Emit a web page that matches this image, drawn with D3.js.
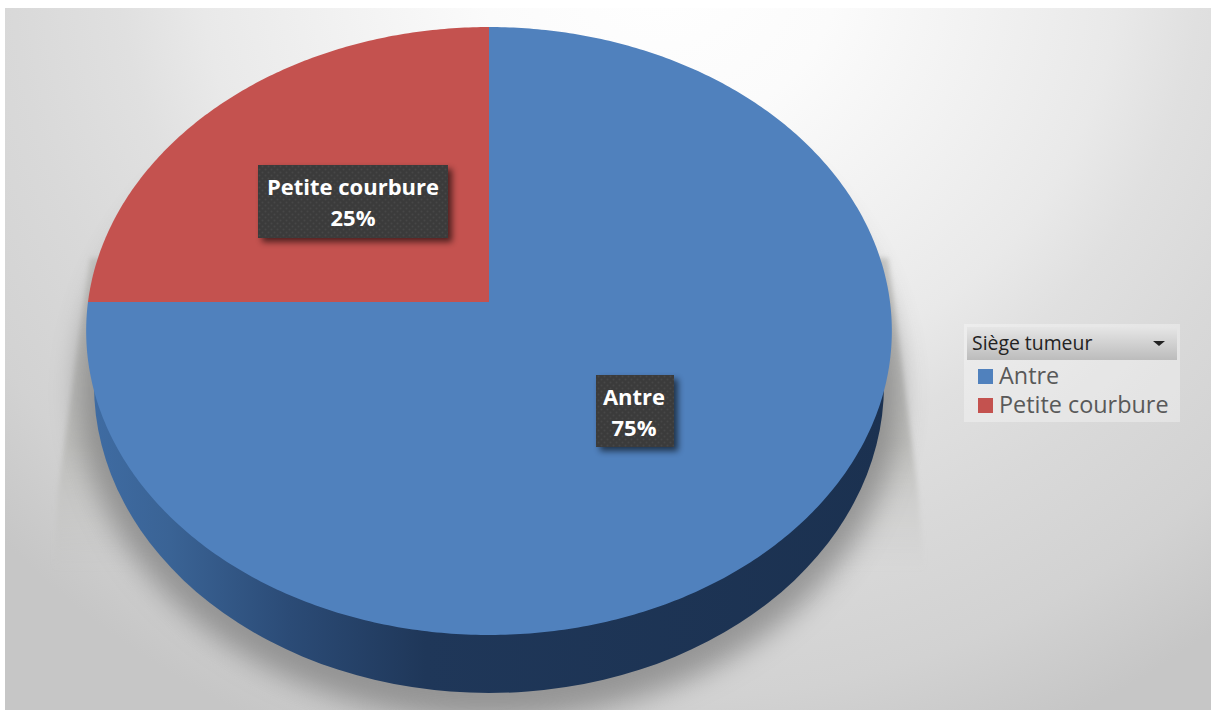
<!DOCTYPE html>
<html>
<head>
<meta charset="utf-8">
<script src="https://cdn.jsdelivr.net/npm/d3@7"></script>
<style>
html,body{margin:0;padding:0;background:#fff;}
svg{display:block;}
text{font-family:"Open Sans",sans-serif;}
</style>
</head>
<body>
<div id="chart"></div>
<script>
const categories = ["Antre", "Petite courbure"];
const shares = [75, 25];
const sliceColors = ["#5081bd", "#c4524f"];
const legendTitle = "Siège tumeur";

const W = 1211, H = 710;
const svg = d3.select("#chart").append("svg").attr("width", W).attr("height", H);
const defs = svg.append("defs");

// Backdrop: soft light falling from the top centre
const rad = defs.append("radialGradient").attr("id", "bg")
  .attr("gradientUnits", "userSpaceOnUse")
  .attr("cx", 0).attr("cy", 0).attr("r", 1)
  .attr("gradientTransform", "translate(660 -40) scale(900 850)");
[[0, "#ffffff"], [0.2, "#fbfbfb"], [0.51, "#e9e9e9"], [0.6, "#e0e0e0"], [0.72, "#d9d9d9"], [0.87, "#d2d2d2"], [1, "#c6c6c6"]]
  .forEach(([o, c]) => rad.append("stop").attr("offset", o).attr("stop-color", c));
svg.append("rect").attr("x", 5).attr("y", 8).attr("width", W - 5).attr("height", H - 8).attr("fill", "url(#bg)");

// Cast shadow behind the disc: a flat wedge on each flank and a soft halo below
const shadeGrad = defs.append("linearGradient").attr("id", "shade")
  .attr("gradientUnits", "userSpaceOnUse").attr("x1", 0).attr("y1", 250).attr("x2", 0).attr("y2", 570);
[[0, 0.75], [0.6, 0.9], [0.8, 0.35], [1, 0]]
  .forEach(([o, a]) => shadeGrad.append("stop").attr("offset", o).attr("stop-color", "#bcbcb9").attr("stop-opacity", a));
defs.append("filter").attr("id", "soft").attr("x", "-10%").attr("y", "-10%").attr("width", "120%").attr("height", "120%")
  .append("feGaussianBlur").attr("stdDeviation", 2.5);
defs.append("filter").attr("id", "halo").attr("x", "-20%").attr("y", "-20%").attr("width", "140%").attr("height", "140%")
  .append("feGaussianBlur").attr("stdDeviation", 14);
svg.append("path")
  .attr("d", "M90,258 L58,490 L54,570 L924,570 L918,490 L888,258 Z")
  .attr("fill", "url(#shade)").attr("filter", "url(#soft)");
svg.append("ellipse").attr("cx", 489).attr("cy", 392).attr("rx", 410).attr("ry", 328)
  .attr("fill", "#808080").attr("opacity", 0.75).attr("filter", "url(#halo)");

// Side wall of the disc
const cx = 489, cy = 302;
const wall = defs.append("linearGradient").attr("id", "wall")
  .attr("gradientUnits", "userSpaceOnUse").attr("x1", 90).attr("y1", 0).attr("x2", 890).attr("y2", 0);
[[0, "#3f6ca3"], [0.1, "#3a6395"], [0.25, "#2b4b76"], [0.42, "#1f3759"], [1, "#1b3150"]]
  .forEach(([o, c]) => wall.append("stop").attr("offset", o).attr("stop-color", c));
svg.append("ellipse").attr("cx", cx).attr("cy", 385).attr("rx", 395).attr("ry", 308).attr("fill", "url(#wall)");

// Perspective projection of the pie's unit circle onto the screen
const persp = 0.0954, scaleX = 401, scaleY = 301.2;
const project = (r, a) => {
  const u = r * Math.sin(a), v = -r * Math.cos(a), d = 1 - persp * v;
  return [cx + scaleX * u / d, cy + scaleY * v / d];
};
const pie = d3.pie().sort(null).value(d => d.share);
const rows = categories.map((name, i) => ({name, share: shares[i], color: sliceColors[i]}));
const arcs = pie(rows);
const line = d3.line();
const slicePath = s => {
  const n = Math.ceil((s.endAngle - s.startAngle) * 90);
  const rim = d3.range(n + 1).map(i => project(1, s.startAngle + (s.endAngle - s.startAngle) * i / n));
  return line([[cx, cy], ...rim]) + "Z";
};
svg.append("g").selectAll("path").data(arcs).join("path")
  .attr("d", slicePath)
  .attr("fill", d => d.data.color);

// Data labels on dark dotted plates
const dots = defs.append("pattern").attr("id", "dots").attr("patternUnits", "userSpaceOnUse").attr("width", 6).attr("height", 6);
dots.append("rect").attr("width", 6).attr("height", 6).attr("fill", "#3b3b3b");
dots.append("circle").attr("cx", 1.5).attr("cy", 1.5).attr("r", 1).attr("fill", "#474747");
dots.append("circle").attr("cx", 4.5).attr("cy", 4.5).attr("r", 1).attr("fill", "#474747");
defs.append("filter").attr("id", "plateShadow").attr("x", "-20%").attr("y", "-30%").attr("width", "140%").attr("height", "160%")
  .append("feGaussianBlur").attr("stdDeviation", 3);

const plates = [
  {x: 596, y: 375, w: 78, h: 72, cx: 634, row: rows[0]},
  {x: 258, y: 165, w: 190, h: 73, cx: 353, row: rows[1]}
];
plates.forEach(p => {
  const g = svg.append("g");
  g.append("rect").attr("x", p.x + 4).attr("y", p.y + 4).attr("width", p.w).attr("height", p.h)
    .attr("fill", "#000").attr("opacity", 0.6).attr("filter", "url(#plateShadow)");
  g.append("rect").attr("x", p.x).attr("y", p.y).attr("width", p.w).attr("height", p.h).attr("fill", "url(#dots)");
  g.append("text").attr("x", p.cx).attr("y", p.y + 30).attr("text-anchor", "middle")
    .attr("font-size", 22).attr("font-weight", 700).attr("fill", "#fff").text(p.row.name);
  g.append("text").attr("x", p.cx).attr("y", p.y + 61).attr("text-anchor", "middle")
    .attr("font-size", 22).attr("font-weight", 700).attr("fill", "#fff").text(p.row.share + "%");
});

// Legend panel with its field header
const lg = svg.append("g");
lg.append("rect").attr("x", 964).attr("y", 324).attr("width", 216).attr("height", 98).attr("fill", "#fff").attr("opacity", 0.32);
const head = defs.append("linearGradient").attr("id", "head").attr("x1", 0).attr("y1", 0).attr("x2", 0).attr("y2", 1);
[[0, "#e6e6e6"], [1, "#bcbcbc"]].forEach(([o, c]) => head.append("stop").attr("offset", o).attr("stop-color", c));
lg.append("rect").attr("x", 967).attr("y", 327).attr("width", 210).attr("height", 33).attr("fill", "url(#head)");
lg.append("text").attr("x", 972).attr("y", 350).attr("font-size", 19.4).attr("fill", "#222").text(legendTitle);
lg.append("path").attr("d", "M1153,341 h12 l-6,5 Z").attr("fill", "#222");
const step = 29;
rows.forEach((r, i) => {
  lg.append("rect").attr("x", 978).attr("y", 369 + i * step).attr("width", 15).attr("height", 15).attr("fill", r.color);
  lg.append("text").attr("x", 999).attr("y", 384 + i * step).attr("font-size", 23.4).attr("fill", "#595959").text(r.name);
});
</script>
</body>
</html>
